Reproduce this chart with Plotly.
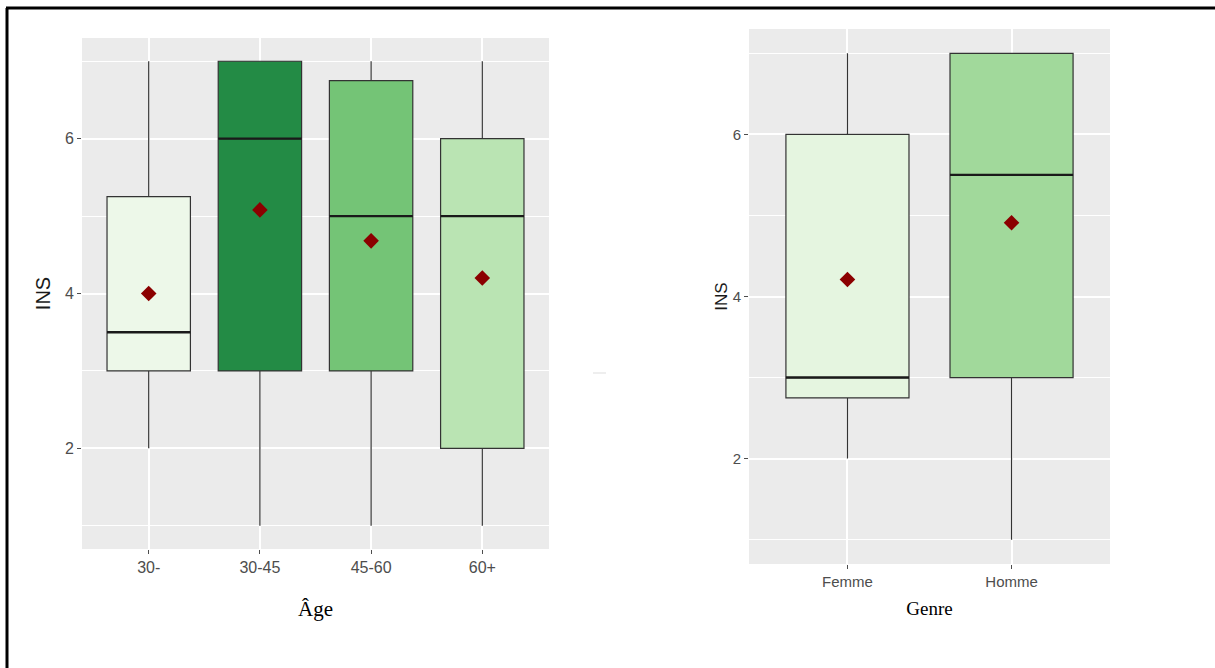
"""Two ggplot-style boxplots of INS by age group and by gender"""

import plotly.graph_objs as go

# age panel
age_groups = ["30-", "30-45", "45-60", "60+"]
age_low = [2, 1, 1, 1]
age_q1 = [3, 3, 3, 2]
age_median = [3.5, 6, 5, 5]
age_q3 = [5.25, 7, 6.75, 6]
age_high = [7, 7, 7, 7]
age_mean = [4.0, 5.08, 4.68, 4.2]
age_colors = ["#EDF8E9", "#238B45", "#74C476", "#BAE4B3"]

# gender panel
genders = ["Femme", "Homme"]
gender_low = [2, 1]
gender_q1 = [2.75, 3]
gender_median = [3, 5.5]
gender_q3 = [6, 7]
gender_high = [7, 7]
gender_mean = [4.21, 4.91]
gender_colors = ["#E5F5E0", "#A1D99B"]

BOX_W = 0.75


def add_boxes(fig, labels, low, q1, med, q3, high, mean, colors, xa, ya):
    for i, lab in enumerate(labels):
        pos = i + 1
        fig.add_trace(go.Box(
            x=[pos], lowerfence=[low[i]], q1=[q1[i]], median=[med[i]],
            q3=[q3[i]], upperfence=[high[i]], width=BOX_W,
            fillcolor=colors[i], line=dict(color="#333333", width=1.2),
            whiskerwidth=0, showlegend=False, hoverinfo="skip",
            xaxis=xa, yaxis=ya, name=lab))
        # thicker median line like ggplot's fatten
        fig.add_trace(go.Scatter(
            x=[pos - BOX_W / 2, pos + BOX_W / 2], y=[med[i], med[i]],
            mode="lines", line=dict(color="#1a1a1a", width=2.4),
            showlegend=False, hoverinfo="skip", xaxis=xa, yaxis=ya))
    fig.add_trace(go.Scatter(
        x=list(range(1, len(labels) + 1)), y=mean, mode="markers",
        marker=dict(symbol="diamond", size=12, color="#8B0000"),
        showlegend=False, hoverinfo="skip", xaxis=xa, yaxis=ya))


fig = go.Figure()
add_boxes(fig, age_groups, age_low, age_q1, age_median, age_q3, age_high,
          age_mean, age_colors, "x", "y")
add_boxes(fig, genders, gender_low, gender_q1, gender_median, gender_q3,
          gender_high, gender_mean, gender_colors, "x2", "y2")

sans = "Liberation Sans, Arial"
serif = "Liberation Serif, Times New Roman"


def axis_style(size):
    return dict(showgrid=True, gridcolor="white", gridwidth=1.8, zeroline=False,
                ticks="outside", ticklen=4, tickcolor="#4D4D4D", tickwidth=1.2,
                tickfont=dict(family=sans, size=size, color="#4D4D4D"),
                showline=False)


minor = dict(dtick=1, tick0=1, showgrid=True, gridcolor="white",
             gridwidth=0.9, ticks="")

fig.update_layout(
    width=1215, height=668,
    margin=dict(l=0, r=0, t=0, b=0),
    paper_bgcolor="white", plot_bgcolor="#EBEBEB",
    boxmode="overlay",
    xaxis=dict(domain=[82 / 1215, 549 / 1215], range=[0.4, 4.6],
               tickvals=[1, 2, 3, 4], ticktext=age_groups, anchor="y",
               title=dict(text="Âge", standoff=26,
                          font=dict(family=serif, size=21, color="black")),
               **axis_style(16)),
    yaxis=dict(domain=[1 - 549 / 668, 1 - 38 / 668], range=[0.7, 7.3],
               tick0=2, dtick=2, anchor="x", minor=minor,
               title=dict(text="INS", standoff=8,
                          font=dict(family=sans, size=20, color="#1a1a1a")),
               **axis_style(16)),
    xaxis2=dict(domain=[749 / 1215, 1110 / 1215], range=[0.4, 2.6],
                tickvals=[1, 2], ticktext=genders, anchor="y2",
                title=dict(text="Genre", standoff=12,
                           font=dict(family=serif, size=19, color="black")),
                **axis_style(15)),
    yaxis2=dict(domain=[1 - 564 / 668, 1 - 29 / 668], range=[0.7, 7.3],
                tick0=2, dtick=2, anchor="x2", minor=minor,
                title=dict(text="INS", standoff=0,
                           font=dict(family=sans, size=17, color="#1a1a1a")),
                **axis_style(15)),
    shapes=[
        # frame lines around the figure (top and left only)
        dict(type="line", xref="paper", yref="paper", x0=6 / 1215, x1=1,
             y0=1 - 8 / 668, y1=1 - 8 / 668, line=dict(color="black", width=3)),
        dict(type="line", xref="paper", yref="paper", x0=7 / 1215, x1=7 / 1215,
             y0=0, y1=1 - 8 / 668, line=dict(color="black", width=3)),
        dict(type="line", xref="paper", yref="paper", x0=593 / 1215,
             x1=606 / 1215, y0=1 - 373 / 668, y1=1 - 373 / 668,
             line=dict(color="#dddddd", width=1)),
    ],
)

# drop the default body margin so the figure sits at the window origin
fig.write_html("out.html", config={"displayModeBar": False},
               post_script="document.body.style.margin='0';")
